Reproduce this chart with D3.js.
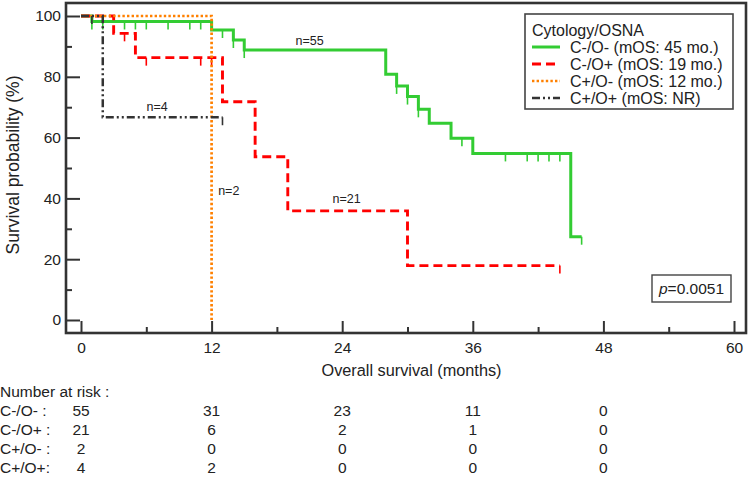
<!DOCTYPE html>
<html><head><meta charset="utf-8">
<script src="https://cdn.jsdelivr.net/npm/d3@7"></script>
<style>
body{margin:0;background:#fff;}
svg text{font-family:"Liberation Sans",Arial,sans-serif;fill:#222;}
</style></head>
<body><svg id="chart" width="749" height="477"></svg>
<script>
// ---- data ----
const seriesNames = ["C-/O-", "C-/O+", "C+/O-", "C+/O+"];
const legendLabels = ["C-/O- (mOS: 45 mo.)", "C-/O+ (mOS: 19 mo.)", "C+/O- (mOS: 12 mo.)", "C+/O+ (mOS: NR)"];
const nLabels = ["n=55", "n=21", "n=2", "n=4"];

const greenTime = [0, 1, 12, 14, 15, 28, 29, 30, 31, 32, 34, 36, 45, 46];
const greenSurv = [100, 98.2, 95.4, 92.1, 88.8, 80.8, 77.0, 73.5, 69.3, 64.7, 59.8, 54.8, 27.4, 27.4];
const greenCensor = [1, 2, 4, 5, 6, 8, 10, 11, 13, 14, 15, 29, 30, 31, 35, 39, 41, 42, 43, 44, 46];

const redTime = [0, 3, 5, 13, 16, 19, 30, 44];
const redSurv = [100, 94.3, 86.3, 71.8, 53.7, 35.9, 17.9, 17.9];
const redCensor = [4, 6, 11, 12, 44];

const orangeTime = [0, 12];
const orangeSurv = [100, 0];
const orangeCensor = [];

const blackTime = [0, 2, 13];
const blackSurv = [100, 66.7, 66.7];
const blackCensor = [1, 13];

const xMajor = [0, 12, 24, 36, 48, 60];
const xMinor = [6, 18, 30, 42, 54];
const yMajor = [0, 20, 40, 60, 80, 100];
const yMinor = [10, 30, 50, 70, 90];

const riskTimes = [0, 12, 24, 36, 48];
const riskLabels = ["C-/O- :", "C-/O+ :", "C+/O- :", "C+/O+:"];
const riskGreen = [55, 31, 23, 11, 0];
const riskRed = [21, 6, 2, 1, 0];
const riskOrange = [2, 0, 0, 0, 0];
const riskBlack = [4, 2, 0, 0, 0];

// ---- drawing ----
const svg = d3.select("#chart");
const x = d3.scaleLinear().domain([0, 60]).range([81, 734]);
const y = d3.scaleLinear().domain([0, 100]).range([320, 16]);
const axisX = 333, axisY = 66, frameTop = 3, frameRight = 746;
const axisColor = "#333";
const FS = 15.5;

const styles = [
  {color: "#33cc33", width: 3, dash: null},
  {color: "#ff0000", width: 2.9, dash: "9,5"},
  {color: "#ff8000", width: 2.7, dash: "2.4,2.2"},
  {color: "#333333", width: 2.5, dash: "8,3,2,3,2,3"}
];
const curves = [
  {t: greenTime, s: greenSurv, c: greenCensor},
  {t: redTime, s: redSurv, c: redCensor},
  {t: orangeTime, s: orangeSurv, c: orangeCensor},
  {t: blackTime, s: blackSurv, c: blackCensor}
];

// axes ticks
const gx = svg.append("g").attr("transform", `translate(0,${axisX})`)
  .call(d3.axisBottom(x).tickValues(xMajor).tickSizeInner(-12).tickSizeOuter(0).tickPadding(9));
const gxm = svg.append("g").attr("transform", `translate(0,${axisX})`)
  .call(d3.axisBottom(x).tickValues(xMinor).tickSizeInner(-6).tickSizeOuter(0).tickFormat(""));
const gy = svg.append("g").attr("transform", `translate(${axisY},0)`)
  .call(d3.axisLeft(y).tickValues(yMajor).tickSizeInner(-14).tickSizeOuter(0).tickPadding(5));
const gym = svg.append("g").attr("transform", `translate(${axisY},0)`)
  .call(d3.axisLeft(y).tickValues(yMinor).tickSizeInner(-6).tickSizeOuter(0).tickFormat(""));
[gx, gxm, gy, gym].forEach(g => {
  g.select(".domain").remove();
  g.selectAll("line").attr("stroke", axisColor).attr("stroke-width", 2);
  g.selectAll("text").attr("font-size", FS).attr("fill", "#222")
    .style("font-family", '"Liberation Sans",Arial,sans-serif');
});

// frame
svg.append("rect").attr("x", axisY).attr("y", frameTop)
  .attr("width", frameRight - axisY).attr("height", axisX - frameTop)
  .attr("fill", "none").attr("stroke", axisColor).attr("stroke-width", 2.6);

// axis titles
svg.append("text").attr("x", (x(0) + x(60)) / 2 + 4).attr("y", 376)
  .attr("text-anchor", "middle").attr("font-size", 16.3).text("Overall survival (months)");
svg.append("text").attr("transform", "translate(19,165) rotate(-90)")
  .attr("text-anchor", "middle").attr("font-size", 17.5).text("Survival probability (%)");

// curves
const line = d3.line().x(d => x(d[0])).y(d => y(d[1])).curve(d3.curveStepAfter);
function survAt(cv, t) {
  const i = d3.bisectRight(cv.t, t) - 1;
  return cv.s[Math.max(0, i)];
}
curves.forEach((cv, k) => {
  const st = styles[k];
  const pts = cv.t.map((t, i) => [t, cv.s[i]]);
  svg.append("path").datum(pts).attr("d", line)
    .attr("fill", "none").attr("stroke", st.color).attr("stroke-width", st.width)
    .attr("stroke-dasharray", st.dash);
  svg.append("g").selectAll("line").data(cv.c).join("line")
    .attr("x1", d => x(d)).attr("x2", d => x(d))
    .attr("y1", d => y(survAt(cv, d))).attr("y2", d => y(survAt(cv, d)) + 8)
    .attr("stroke", st.color).attr("stroke-width", 1.6);
});

// n labels
const nPos = [[21.0, 45], [24.4, 203], [12.6, 195], [7.0, 111]];
nLabels.forEach((t, i) => {
  svg.append("text").attr("x", x(nPos[i][0])).attr("y", nPos[i][1])
    .attr("text-anchor", i === 2 ? "start" : "middle").attr("font-size", 12.5).text(t);
});

// legend
const lg = svg.append("g");
lg.append("rect").attr("x", 525).attr("y", 14).attr("width", 208).attr("height", 95)
  .attr("fill", "#fff").attr("stroke", "#444").attr("stroke-width", 1.6);
lg.append("text").attr("x", 532).attr("y", 36).attr("font-size", 16).text("Cytology/OSNA");
legendLabels.forEach((t, i) => {
  const yy = 47 + i * 17;
  lg.append("line").attr("x1", 532).attr("x2", 560).attr("y1", yy).attr("y2", yy)
    .attr("stroke", styles[i].color).attr("stroke-width", styles[i].width)
    .attr("stroke-dasharray", styles[i].dash);
  lg.append("text").attr("x", 570).attr("y", yy + 5.5).attr("font-size", 16).text(t);
});

// p-value box
svg.append("rect").attr("x", 652).attr("y", 275).attr("width", 79).attr("height", 27)
  .attr("fill", "#fff").attr("stroke", "#444").attr("stroke-width", 1.4);
const pt = svg.append("text").attr("x", 691.5).attr("y", 294).attr("text-anchor", "middle").attr("font-size", 15.5);
pt.append("tspan").attr("font-style", "italic").text("p");
pt.append("tspan").text("=0.0051");

// number at risk
svg.append("text").attr("x", 0).attr("y", 397).attr("font-size", FS).text("Number at risk :");
const riskRows = [riskGreen, riskRed, riskOrange, riskBlack];
riskRows.forEach((row, r) => {
  const yy = 416 + r * 19;
  svg.append("text").attr("x", 0).attr("y", yy).attr("font-size", FS).text(riskLabels[r]);
  svg.append("g").selectAll("text").data(row).join("text")
    .attr("x", (d, i) => x(riskTimes[i])).attr("y", yy)
    .attr("text-anchor", "middle").attr("font-size", FS).text(d => d);
});
</script></body></html>
